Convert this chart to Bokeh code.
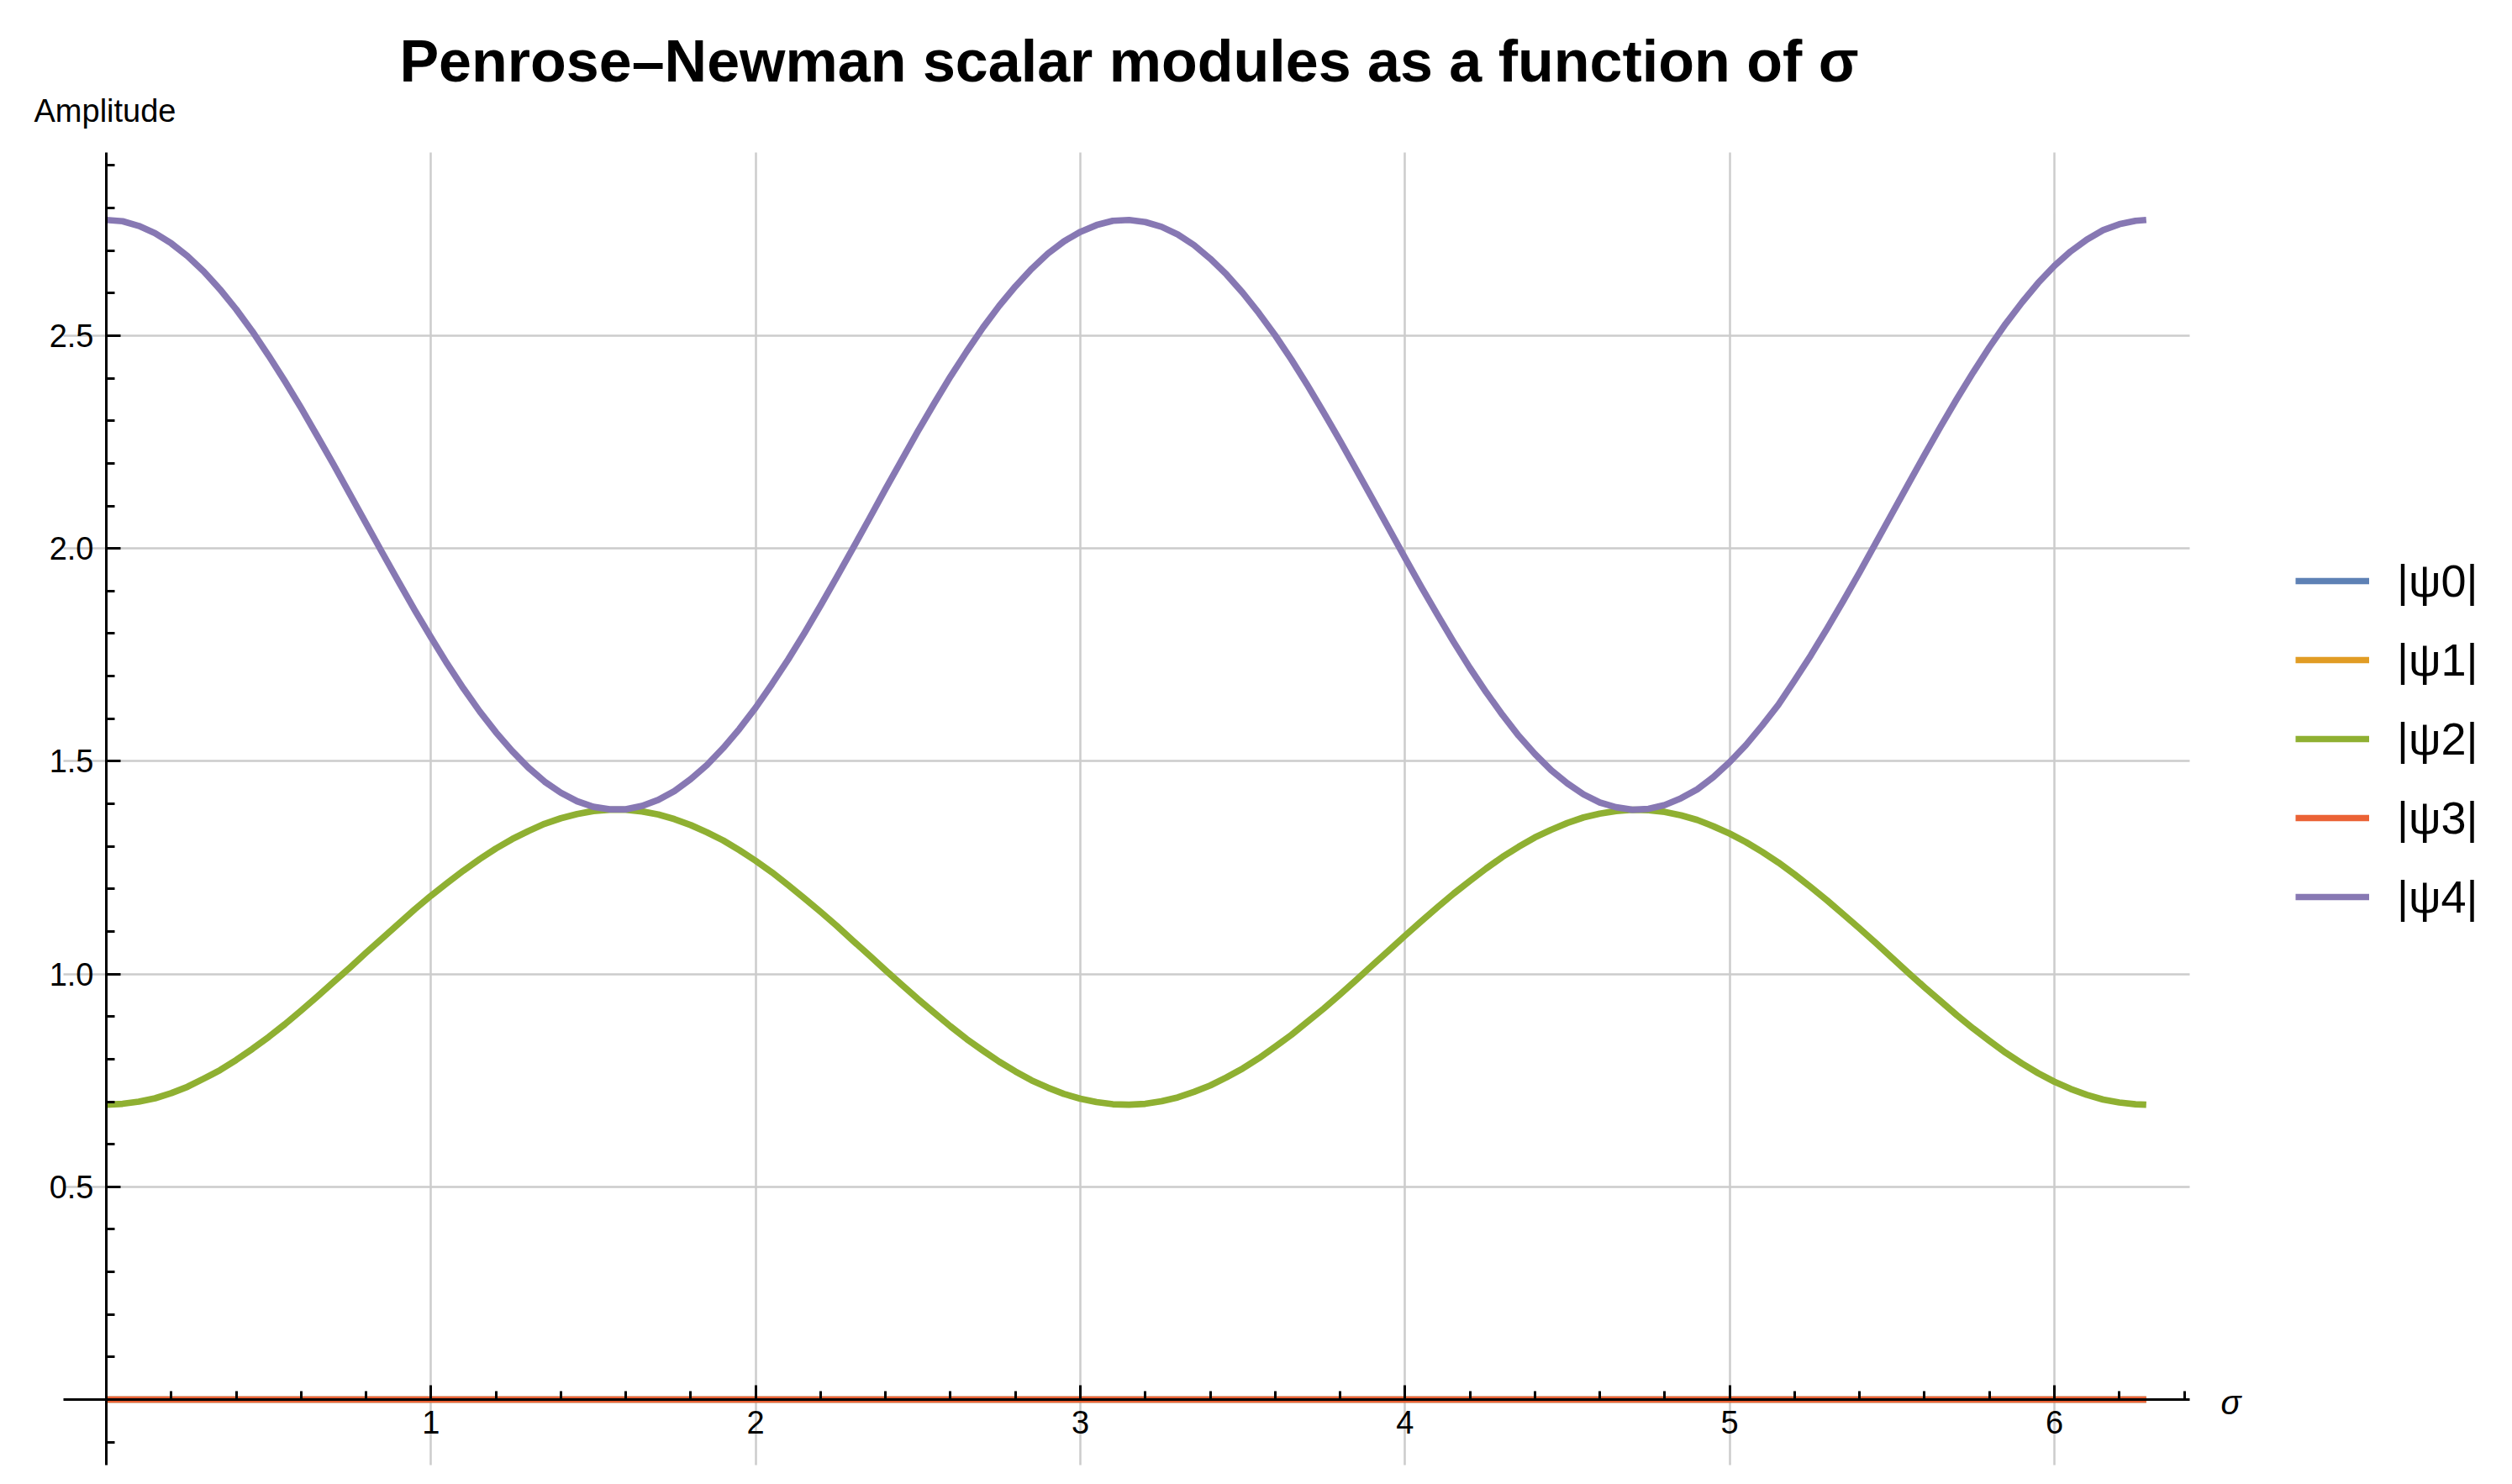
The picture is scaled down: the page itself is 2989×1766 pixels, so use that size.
from bokeh.plotting import figure
from bokeh.models import FixedTicker, Label, Legend, LegendItem, Range1d, PrintfTickFormatter
from bokeh.embed import file_html
from bokeh.resources import INLINE

# ---- data ----
sigma = [0.0, 0.05, 0.1, 0.15, 0.2, 0.25, 0.3, 0.35, 0.4, 0.45,
         0.5, 0.55, 0.6, 0.65, 0.7, 0.75, 0.8, 0.85, 0.9, 0.95,
         1.0, 1.05, 1.1, 1.15, 1.2, 1.25, 1.3, 1.35, 1.4, 1.45,
         1.5, 1.55, 1.6, 1.65, 1.7, 1.75, 1.8, 1.85, 1.9, 1.95,
         2.0, 2.05, 2.1, 2.15, 2.2, 2.25, 2.3, 2.35, 2.4, 2.45,
         2.5, 2.55, 2.6, 2.65, 2.7, 2.75, 2.8, 2.85, 2.9, 2.95,
         3.0, 3.05, 3.1, 3.15, 3.2, 3.25, 3.3, 3.35, 3.4, 3.45,
         3.5, 3.55, 3.6, 3.65, 3.7, 3.75, 3.8, 3.85, 3.9, 3.95,
         4.0, 4.05, 4.1, 4.15, 4.2, 4.25, 4.3, 4.35, 4.4, 4.45,
         4.5, 4.55, 4.6, 4.65, 4.7, 4.75, 4.8, 4.85, 4.9, 4.95,
         5.0, 5.05, 5.1, 5.15, 5.2, 5.25, 5.3, 5.35, 5.4, 5.45,
         5.5, 5.55, 5.6, 5.65, 5.7, 5.75, 5.8, 5.85, 5.9, 5.95,
         6.0, 6.05, 6.1, 6.15, 6.2, 6.25, 6.283]

psi0 = [0.0] * len(sigma)
psi1 = [0.0] * len(sigma)
psi3 = [0.0] * len(sigma)

psi2 = [0.693, 0.695, 0.700, 0.708, 0.720, 0.735, 0.754, 0.774, 0.798, 0.824,
        0.852, 0.882, 0.914, 0.947, 0.981, 1.015, 1.050, 1.084, 1.118, 1.152,
        1.184, 1.214, 1.243, 1.270, 1.295, 1.317, 1.336, 1.353, 1.366, 1.376,
        1.383, 1.386, 1.386, 1.382, 1.375, 1.364, 1.350, 1.333, 1.314, 1.291,
        1.266, 1.239, 1.209, 1.178, 1.146, 1.113, 1.078, 1.044, 1.009, 0.975,
        0.941, 0.909, 0.877, 0.847, 0.820, 0.794, 0.771, 0.750, 0.733, 0.718,
        0.707, 0.699, 0.694, 0.693, 0.695, 0.701, 0.710, 0.723, 0.738, 0.757,
        0.778, 0.802, 0.829, 0.857, 0.888, 0.919, 0.952, 0.986, 1.021, 1.055,
        1.090, 1.124, 1.157, 1.189, 1.219, 1.248, 1.275, 1.299, 1.321, 1.339,
        1.355, 1.368, 1.377, 1.383, 1.386, 1.385, 1.381, 1.373, 1.362, 1.347,
        1.330, 1.310, 1.287, 1.262, 1.234, 1.204, 1.173, 1.140, 1.107, 1.073,
        1.038, 1.003, 0.969, 0.936, 0.903, 0.872, 0.843, 0.815, 0.790, 0.767,
        0.747, 0.730, 0.716, 0.705, 0.698, 0.694, 0.693]

psi4 = [2.772, 2.769, 2.758, 2.741, 2.717, 2.687, 2.651, 2.609, 2.562, 2.510,
        2.453, 2.393, 2.330, 2.264, 2.197, 2.128, 2.059, 1.990, 1.922, 1.855,
        1.791, 1.729, 1.671, 1.617, 1.568, 1.524, 1.485, 1.452, 1.426, 1.406,
        1.393, 1.387, 1.387, 1.395, 1.409, 1.430, 1.458, 1.491, 1.531, 1.576,
        1.626, 1.681, 1.739, 1.801, 1.866, 1.933, 2.001, 2.070, 2.140, 2.208,
        2.276, 2.341, 2.404, 2.463, 2.519, 2.570, 2.616, 2.657, 2.693, 2.722,
        2.744, 2.760, 2.770, 2.772, 2.767, 2.756, 2.738, 2.713, 2.681, 2.644,
        2.601, 2.553, 2.501, 2.444, 2.383, 2.319, 2.253, 2.185, 2.116, 2.047,
        1.978, 1.910, 1.844, 1.780, 1.719, 1.662, 1.609, 1.560, 1.517, 1.479,
        1.448, 1.422, 1.403, 1.392, 1.386, 1.388, 1.397, 1.413, 1.434, 1.463,
        1.498, 1.538, 1.584, 1.633, 1.690, 1.749, 1.812, 1.877, 1.944, 2.013,
        2.082, 2.151, 2.220, 2.287, 2.352, 2.414, 2.473, 2.528, 2.578, 2.624,
        2.664, 2.698, 2.726, 2.748, 2.762, 2.770, 2.772]

series_labels = ["|ψ0|", "|ψ1|", "|ψ2|", "|ψ3|", "|ψ4|"]
series_colors = ["#5E81B5", "#E19C24", "#8FB032", "#EB6235", "#8778B3"]

x_ticks = [1, 2, 3, 4, 5, 6]
x_minor = [0.2, 0.4, 0.6, 0.8, 1.2, 1.4, 1.6, 1.8, 2.2, 2.4, 2.6, 2.8,
           3.2, 3.4, 3.6, 3.8, 4.2, 4.4, 4.6, 4.8, 5.2, 5.4, 5.6, 5.8, 6.2, 6.4]
y_ticks = [0.5, 1.0, 1.5, 2.0, 2.5]
y_minor = [-0.1, 0.1, 0.2, 0.3, 0.4, 0.6, 0.7, 0.8, 0.9, 1.1, 1.2, 1.3, 1.4,
           1.6, 1.7, 1.8, 1.9, 2.1, 2.2, 2.3, 2.4, 2.6, 2.7, 2.8, 2.9]

x_bounds = (-0.132, 6.417)
y_bounds = (-0.155, 2.93)

FONT = "Liberation Sans"
W, H = 2985, 1762

p = figure(width=W, height=H,
           x_range=Range1d(-0.32615, 7.4004), y_range=Range1d(-0.19155, 3.28791),
           output_backend="svg", toolbar_location=None,
           min_border_left=0, min_border_right=0,
           min_border_top=0, min_border_bottom=0)
p.outline_line_color = None
p.background_fill_color = "white"
p.border_fill_color = "white"

renderers = []
for ys, col in zip([psi0, psi1, psi2, psi3, psi4], series_colors):
    r = p.line(sigma, ys, line_color=col, line_width=7.7, line_join="round")
    renderers.append(r)

for ax, tk, mn, bd in [(p.xaxis[0], x_ticks, x_minor, x_bounds),
                       (p.yaxis[0], y_ticks, y_minor, y_bounds)]:
    ax.fixed_location = 0
    ax.bounds = bd
    ax.ticker = FixedTicker(ticks=tk, minor_ticks=mn)
    ax.axis_line_width = 3
    ax.axis_line_color = "black"
    ax.major_tick_line_width = 3
    ax.minor_tick_line_width = 3
    ax.major_tick_in = 17
    ax.major_tick_out = 0
    ax.minor_tick_in = 10
    ax.minor_tick_out = 0
    ax.major_label_text_font = FONT
    ax.major_label_text_font_size = "38px"
    ax.major_label_text_color = "black"

p.yaxis[0].formatter = PrintfTickFormatter(format="%.1f")
p.xaxis[0].major_label_standoff = 14
p.yaxis[0].major_label_standoff = 15

p.xgrid[0].cross_bounds = y_bounds
p.ygrid[0].cross_bounds = x_bounds
for g in (p.xgrid[0], p.ygrid[0]):
    g.grid_line_color = "#cccccc"
    g.grid_line_width = 2.5

p.add_layout(Label(x=1343, y=H - 72, x_units="screen", y_units="screen",
                   text="Penrose–Newman scalar modules as a function of σ",
                   text_font=FONT, text_font_size="70px", text_font_style="bold",
                   text_baseline="alphabetic", text_align="center", text_color="black"))
p.add_layout(Label(x=40, y=H - 131, x_units="screen", y_units="screen",
                   text="Amplitude", text_font=FONT, text_font_size="38px",
                   text_baseline="alphabetic", text_align="left", text_color="black"))
p.add_layout(Label(x=2642, y=H - 1668, x_units="screen", y_units="screen",
                   text="σ", text_font=FONT, text_font_size="40px", text_font_style="italic",
                   text_baseline="alphabetic", text_align="left", text_color="black"))

legend = Legend(items=[LegendItem(label=l, renderers=[r]) for l, r in zip(series_labels, renderers)],
                location=(2731, H - 1099), padding=0, margin=0,
                glyph_width=88, glyph_height=64, label_height=64, spacing=30,
                label_standoff=33, label_text_font=FONT, label_text_font_size="54px",
                label_text_color="black", border_line_color=None, background_fill_alpha=0)
p.add_layout(legend)

open("out.html", "w").write(file_html(p, INLINE))
